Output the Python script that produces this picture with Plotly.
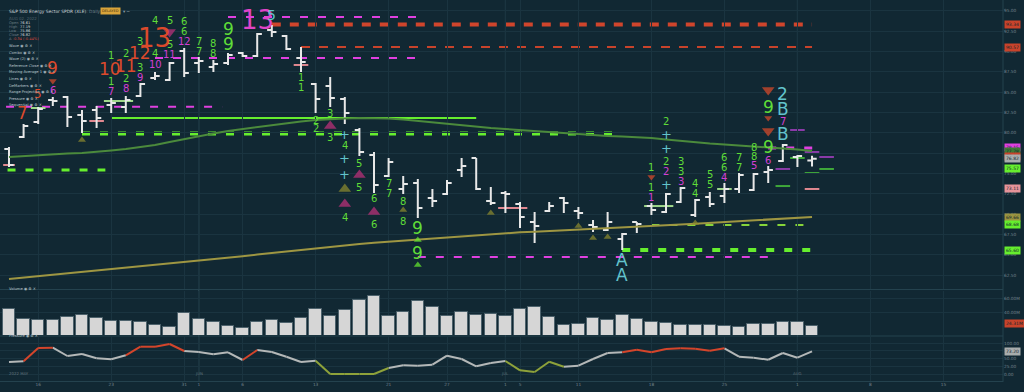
import plotly.graph_objects as go

# ---------------- data ----------------
tick_idx = [2, 7, 12, 13, 16, 21, 26, 30, 34, 35, 39, 44, 49, 54, 59, 64]
tick_text = ["16", "23", "31", "1", "6", "13", "21", "27", "1", "5", "11", "18", "25", "1", "8", "15"]
month_idx = [13, 34, 54]
month_text = ["JUN", "JUL", "AUG"]

open_ = [78.03, 79.50, 81.35, 84.05, 84.42, 82.21, 82.82, 83.44, 83.19, 84.54, 86.76, 86.51, 90.08, 88.60,
         88.11, 88.60, 89.83, 89.46, 92.66, 91.93, 89.22, 86.02, 85.77, 84.18, 80.36, 77.29, 74.70, 73.11,
         73.84, 72.00, 72.49, 75.44, 76.92, 71.63, 72.61, 71.26, 69.05, 70.40, 72.00, 70.40, 68.68, 68.06,
         66.96, 69.05, 71.01, 70.28, 71.51, 69.91, 72.12, 72.24, 73.11, 72.98, 75.20, 76.55, 77.04, 76.61]
high = [78.27, 81.10, 83.19, 84.42, 84.54, 82.82, 83.32, 84.30, 84.54, 86.14, 87.49, 88.73, 90.45, 89.34,
        88.97, 89.83, 89.96, 92.30, 93.28, 92.05, 90.57, 86.14, 86.88, 84.42, 80.61, 77.66, 76.92, 74.70,
        74.34, 73.11, 74.21, 76.92, 76.92, 73.35, 72.86, 71.51, 70.28, 71.51, 72.12, 70.89, 69.29, 70.28,
        67.69, 69.05, 71.38, 72.61, 73.35, 71.88, 72.74, 73.84, 75.07, 75.07, 75.94, 78.64, 77.29, 77.19]
low = [75.81, 79.38, 81.10, 83.32, 80.73, 80.00, 80.61, 82.45, 82.45, 84.42, 86.51, 86.39, 86.88, 87.37,
       87.49, 88.36, 89.34, 89.34, 91.80, 90.20, 87.49, 82.45, 83.19, 81.10, 77.16, 72.61, 74.58, 72.49,
       69.54, 70.89, 72.37, 74.58, 72.98, 71.14, 70.15, 68.31, 66.46, 70.28, 70.15, 69.42, 67.82, 67.94,
       65.60, 67.69, 69.91, 70.15, 71.38, 69.66, 70.89, 71.38, 72.61, 72.86, 73.84, 76.43, 75.81, 75.86]
close = [76.06, 80.86, 82.95, 83.93, 81.96, 81.47, 81.84, 83.68, 84.05, 86.02, 87.00, 88.60, 87.37, 88.85,
         88.48, 89.59, 89.46, 92.17, 92.42, 90.33, 88.73, 84.18, 84.30, 82.45, 77.66, 73.60, 76.43, 73.72,
         70.77, 71.63, 73.84, 75.94, 73.11, 71.38, 72.49, 69.66, 68.55, 71.01, 71.38, 70.15, 68.43, 69.05,
         67.57, 68.80, 70.52, 72.49, 73.23, 71.75, 71.26, 73.11, 74.83, 74.95, 75.44, 78.52, 77.16, 76.82]

ma_green = [77.04, 77.16, 77.29, 77.41, 77.47, 77.53, 77.66, 77.84, 78.03, 78.27, 78.52, 78.89, 79.26, 79.63,
            79.93, 80.24, 80.49, 80.73, 80.98, 81.22, 81.41, 81.59, 81.72, 81.78, 81.84, 81.84, 81.78, 81.65,
            81.47, 81.29, 81.10, 80.92, 80.73, 80.61, 80.49, 80.36, 80.24, 80.12, 80.00, 79.87, 79.75, 79.63,
            79.56, 79.50, 79.38, 79.19, 79.01, 78.83, 78.70, 78.58, 78.46, 78.40, 78.27, 78.15, 77.96, 77.78]
ma_olive = [62.04, 62.21, 62.38, 62.55, 62.72, 62.89, 63.06, 63.23, 63.40, 63.57, 63.74, 63.91, 64.08, 64.25,
            64.45, 64.64, 64.84, 65.04, 65.23, 65.43, 65.63, 65.83, 66.02, 66.22, 66.35, 66.49, 66.62, 66.76,
            66.89, 67.03, 67.16, 67.30, 67.43, 67.57, 67.70, 67.78, 67.86, 67.94, 68.02, 68.10, 68.18, 68.27,
            68.35, 68.43, 68.53, 68.63, 68.74, 68.84, 68.94, 69.04, 69.15, 69.25, 69.35, 69.45, 69.56, 69.66]

volume_m = [44.3, 29.6, 28.2, 28.2, 32.9, 35.8, 31.9, 26.7, 26.7, 26.2, 21.5, 18.6, 39.0, 29.6, 26.2, 20.4,
            17.2, 25.7, 28.6, 24.7, 31.0, 43.9, 34.3, 42.5, 56.8, 62.9, 34.7, 40.5, 55.8, 47.2, 33.9, 39.6,
            35.8, 37.2, 34.3, 43.9, 47.6, 33.3, 21.9, 22.9, 31.9, 29.0, 36.2, 29.6, 25.3, 24.3, 21.0, 21.5,
            21.0, 19.6, 18.6, 22.5, 23.3, 25.3, 25.3, 20.0]
volume_avg = 24.31

pressure = [38.7, 41.0, 83.9, 84.8, 58.1, 64.5, 50.6, 47.4, 60.3, 88.1, 88.1, 96.8, 74.2, 71.0, 63.5, 70.0,
            45.2, 77.4, 71.0, 55.8, 38.7, 42.9, 0.0, 0.0, 0.0, 0.0, 19.4, 28.1, 26.8, 30.0, 59.0, 48.4,
            24.8, 35.5, 41.9, 11.9, 6.5, 39.7, 23.5, 26.8, 48.4, 67.7, 70.0, 78.4, 70.0, 80.6, 82.9, 81.6,
            75.2, 82.9, 55.8, 52.6, 46.1, 67.7, 52.6, 73.2]
# state of the segment that ends at each bar: m = neutral, h = buying, l = selling
pressure_state = ["m", "m", "h", "h", "m", "m", "m", "m", "m", "h", "h", "h", "h", "m", "m", "m",
                  "m", "h", "m", "m", "m", "m", "l", "l", "l", "l", "l", "m", "m", "m", "m", "m",
                  "m", "m", "m", "l", "l", "l", "l", "m", "m", "m", "m", "h", "h", "h", "h", "h",
                  "h", "h", "m", "m", "m", "m", "m", "m"]

# horizontal levels: (start bar, end bar, price)
lv_magenta = [(-0.2, 14.6, 83.23), (10, 28, 89.22), (15, 28, 94.26), (28, 52, 64.74)]
lv_magenta_thick = [(52, 55.2, 78.15)]
lv_red_thick = [(18, 55, 93.34)]
lv_red = [(20, 55, 90.57)]
lv_lime_solid = [(7, 32, 81.84)]
lv_lime_thick = [(5, 41.8, 79.93), (42, 55, 65.60)]
lv_lime = [(-0.1, 6.6, 75.44)]
lv_yellowgreen = [(44, 55, 68.68)]

short_pink = [(-0.4, 0.4, 76.06), (5.5, 6.5, 81.47), (19.5, 20.5, 88.36), (33.5, 35.5, 70.77), (54.5, 55.5, 73.11)]
short_palegreen = [(1.5, 2.5, 83.07), (6.5, 8.5, 83.93), (43.5, 45.5, 71.01), (48.5, 49.5, 73.11)]
short_purple = [(53.5, 54.5, 80.36), (54.5, 55.5, 77.66), (55.5, 56.5, 77.04), (52.5, 53.5, 75.57)]
short_green = [(55.5, 56.5, 75.57), (54.5, 55.5, 75.07), (52.5, 53.5, 73.47), (53.5, 54.5, 76.92)]

# count labels: (bar, price, text)
lab_green = [(7, 89.47, "1"), (7, 86.27, "1"), (8, 89.71, "2"), (8, 86.64, "2"), (9, 91.19, "3"), (9, 88.11, "3"),
             (10, 93.77, "4"), (10, 89.71, "4"), (11, 93.77, "5"), (11, 90.82, "5"), (12, 93.65, "6"),
             (12, 92.42, "6"), (13, 91.19, "7"), (13, 89.96, "7"), (14, 90.94, "8"), (14, 89.71, "8"),
             (20, 86.88, "1"), (20, 85.65, "1"), (21, 81.59, "2"), (21, 80.49, "2"), (22, 82.45, "3"),
             (22, 79.38, "3"), (23, 78.40, "4"), (23, 69.66, "4"), (24, 76.30, "5"), (24, 73.23, "5"),
             (25, 71.88, "6"), (25, 68.80, "6"), (26, 73.84, "7"), (26, 72.61, "7"), (27, 71.63, "8"),
             (27, 69.17, "8"), (44, 75.69, "1"), (44, 73.35, "1"), (45, 81.35, "2"), (45, 76.43, "2"),
             (46, 76.55, "3"), (46, 75.32, "3"), (47, 73.84, "4"), (47, 72.61, "4"), (48, 74.83, "5"),
             (48, 73.60, "5"), (49, 77.04, "6"), (49, 75.81, "6"), (50, 76.92, "7"), (50, 75.69, "7"),
             (51, 78.27, "8"), (51, 77.16, "8")]
lab_green_big = [(15, 92.79, "9"), (15, 90.94, "9"), (28, 68.31, "9"), (28, 65.23, "9"), (52, 83.19, "9"), (52, 78.27, "9")]
lab_red_big = [(0.9, 82.45, "7"), (3, 87.99, "9"), (6.9, 87.87, "10"), (8, 88.24, "11"), (9, 89.83, "12")]
lab_red_huge = [(9.95, 91.68, "13")]
lab_red_small = [(2, 84.79, "5")]
lab_magenta = [(3, 85.16, "6"), (7, 85.04, "7"), (8, 85.41, "8"), (9, 86.88, "9"), (10, 88.36, "10"),
               (11, 89.59, "11"), (12, 91.19, "12"), (44, 72.12, "1"), (45, 75.20, "2"), (46, 74.09, "3"),
               (49, 74.58, "4"), (51, 75.94, "5"), (52, 76.67, "6"), (53, 81.35, "7")]
lab_magenta_huge = [(17, 93.89, "13")]
lab_cyan_small = [(18, 94.51, "5")]
lab_cyan_plus = [(23, 79.87, "+"), (23, 76.80, "+"), (23, 74.95, "+"), (45, 79.87, "+"), (45, 78.03, "+"), (45, 73.72, "+")]
lab_cyan_big = [(42, 64.37, "A"), (42, 62.53, "A"), (53, 84.79, "2"), (53, 82.95, "B"), (53, 79.87, "B")]

# triangle markers: (bar, price, big?)
tri_red_down = [(3, 86.39, 0), (44, 74.58, 0), (52, 85.28, 1), (52, 81.84, 0), (52, 80.24, 1)]
tri_magenta_down = [(11, 92.42, 1)]
tri_magenta_up = [(22, 80.86, 1), (23, 71.26, 1), (24, 74.83, 1), (25, 70.28, 1)]
tri_olive_up = [(5, 79.13, 0), (23, 73.11, 1), (27, 70.52, 0), (33, 70.15, 0), (39, 68.55, 0),
                (40, 67.08, 0), (41, 67.20, 0), (47, 68.92, 0)]
tri_lime_up = [(28, 66.83, 0), (28, 63.76, 0)]

price_ticks = [62.5, 65.0, 67.5, 70.0, 72.5, 75.0, 77.5, 80.0, 82.5, 85.0, 87.5, 90.0, 92.5, 95.0]
vol_ticks = [40, 60]
pres_ticks = [0, 25, 50, 75, 100]

indicators = ["Wave", "Combo", "Wave (2)", "Reference Close", "Moving Average 1", "Lines",
              "DeMarkers", "Range Projection", "Pressure", "Sequential"]

# ---------------- style ----------------
BG = "#112833"
GRID = "#1a3440"
FONT = "DejaVu Sans"
C_GREEN_TXT = "#5fdc38"
C_RED = "#dc4a2c"
C_MAG = "#d33fd3"
C_MAG_LINE = "#e040e0"
C_CYAN = "#62c3cc"
C_LIME = "#66ee2e"
C_OLIVE = "#8f8b2e"
C_TRI_MAG = "#c2307c"

N = len(close)
xs = list(range(N))
H = 382.0  # plot-area height in px
W = 1003.0


def py(p):
    return 1 - p / H


def pxx(p):
    return p / W


fig = go.Figure()

fig.add_trace(go.Ohlc(x=xs, open=open_, high=high, low=low, close=close,
                      increasing=dict(line=dict(color="#e8e8e8", width=2)),
                      decreasing=dict(line=dict(color="#e8e8e8", width=2)),
                      tickwidth=0.32, showlegend=False, hoverinfo="skip", xaxis="x", yaxis="y"))

fig.add_trace(go.Scatter(x=xs, y=ma_green, mode="lines", line=dict(color="#4b8a3c", width=2),
                         showlegend=False, hoverinfo="skip", yaxis="y"))
fig.add_trace(go.Scatter(x=xs, y=ma_olive, mode="lines", line=dict(color="#9e9642", width=2),
                         showlegend=False, hoverinfo="skip", yaxis="y"))

fig.add_trace(go.Bar(x=xs, y=volume_m, width=0.86, marker=dict(color="#d6d6d6", line=dict(color="#4d626c", width=1)),
                     showlegend=False, hoverinfo="skip", yaxis="y2"))

state_color = {"m": "#b4b8b8", "h": "#d4452b", "l": "#8ea23a"}
for st, col in state_color.items():
    sx, sy = [], []
    for i in range(1, N):
        if pressure_state[i] == st:
            sx += [i - 1, i, None]
            sy += [pressure[i - 1], pressure[i], None]
    fig.add_trace(go.Scatter(x=sx, y=sy, mode="lines", line=dict(color=col, width=2),
                             showlegend=False, hoverinfo="skip", yaxis="y3", connectgaps=False))


def add_tris(lst, sym, col):
    fig.add_trace(go.Scatter(x=[t[0] for t in lst], y=[t[1] for t in lst], mode="markers",
                             marker=dict(symbol=sym, color=col, size=[11 if t[2] else 7 for t in lst], line=dict(width=0)),
                             showlegend=False, hoverinfo="skip", yaxis="y"))


add_tris(tri_red_down, "triangle-down", "#e04a2a")
add_tris(tri_magenta_down, "triangle-down", C_TRI_MAG)
add_tris(tri_magenta_up, "triangle-up", C_TRI_MAG)
add_tris(tri_olive_up, "triangle-up", C_OLIVE)
add_tris(tri_lime_up, "triangle-up", C_LIME)

shapes = []


def add_levels(lst, col, width, dash):
    for x0, x1, p in lst:
        shapes.append(dict(type="line", xref="x", yref="y", x0=x0, x1=x1, y0=p, y1=p,
                           line=dict(color=col, width=width, dash=dash), layer="below"))


add_levels(lv_magenta, C_MAG_LINE, 2, "8px,10px")
add_levels(lv_magenta_thick, C_MAG_LINE, 3, "8px,10px")
add_levels(lv_red_thick, "#d0452c", 4, "9px,9px")
add_levels(lv_red, "#c8432b", 2, "9px,9px")
add_levels(lv_lime_solid, C_LIME, 2, "solid")
add_levels(lv_lime_thick, C_LIME, 4, "8px,10px")
add_levels(lv_lime, C_LIME, 3, "8px,10px")
add_levels(lv_yellowgreen, "#86d43a", 2, "8px,10px")
add_levels(short_pink, "#e08890", 2, "solid")
add_levels(short_palegreen, "#9fd88a", 2, "solid")
add_levels(short_purple, "#8a3aa8", 2, "solid")
add_levels(short_green, "#3fa83a", 2, "solid")

# month separators
for m in month_idx:
    shapes.append(dict(type="line", xref="x", yref="paper", x0=m, x1=m, y0=0, y1=1,
                       line=dict(color="#33505b", width=1), layer="below"))
# panel frames
for yp in [289.5, 336, 381.5]:
    shapes.append(dict(type="line", xref="paper", yref="paper", x0=0, x1=1, y0=py(yp), y1=py(yp),
                       line=dict(color="#24424e", width=1)))
shapes.append(dict(type="line", xref="paper", yref="paper", x0=1, x1=1, y0=0, y1=1,
                   line=dict(color="#24424e", width=1)))

ann = []


def add_labels(lst, col, size):
    for x, p, t in lst:
        ann.append(dict(x=x, y=p, xref="x", yref="y", text=t, showarrow=False,
                        font=dict(family=FONT, size=size, color=col)))


add_labels(lab_green, C_GREEN_TXT, 10)
add_labels(lab_green_big, C_GREEN_TXT, 17)
add_labels(lab_red_big, C_RED, 17)
add_labels(lab_red_huge, C_RED, 26)
add_labels(lab_red_small, C_RED, 12)
add_labels(lab_magenta, C_MAG, 10)
add_labels(lab_magenta_huge, "#e044c8", 26)
add_labels(lab_cyan_small, C_CYAN, 14)
add_labels(lab_cyan_plus, C_CYAN, 13)
add_labels(lab_cyan_big, C_CYAN, 17)

# right-side value tags
tags = [
    ("y", lv_red_thick[0][2], "#c8432b"),
    ("y", lv_red[0][2], "#c8432b"),
    ("y", lv_magenta_thick[0][2], C_MAG_LINE),
    ("y", ma_green[-1], "#3f7a36"),
    ("y", close[-2], "#c8432b"),
    ("y", close[-1], "#a9adad"),
    ("y", short_green[0][2], C_LIME),
    ("y", short_pink[-1][2], "#e6939a"),
    ("y", ma_olive[-1], "#9a9440"),
    ("y", lv_yellowgreen[0][2], C_LIME),
    ("y", lv_lime_thick[1][2], C_LIME),
    ("y2", volume_avg, "#c8432b"),
    ("y3", pressure[-1], "#a9adad"),
]
for ax, v, col in tags:
    txt = f"{v:.2f}M" if ax == "y2" else f"{v:.2f}"
    ann.append(dict(x=1, y=v, xref="paper", yref=ax, xanchor="left", xshift=1, text=txt, showarrow=False,
                    bgcolor=col, borderpad=1, font=dict(family=FONT, size=4.5, color="#13262d")))

# legend block
ann.append(dict(x=pxx(7), y=py(7), xref="paper", yref="paper", xanchor="left", showarrow=False,
                text="S&P 500 Energy Sector SPDR (XLE)<span style='color:#6f7f88'>: Daily</span>",
                font=dict(family=FONT, size=4.4, color="#cfd6da")))
ann.append(dict(x=pxx(100), y=py(7), xref="paper", yref="paper", xanchor="left", showarrow=False,
                text="DELAYED", bgcolor="#d9a43a", borderpad=1, font=dict(family=FONT, size=3.6, color="#3a2a10")))
ann.append(dict(x=pxx(121), y=py(7), xref="paper", yref="paper", xanchor="left", showarrow=False,
                text="▾ ═", font=dict(family=FONT, size=4.5, color="#8a9aa3")))
ann.append(dict(x=pxx(7), y=py(14), xref="paper", yref="paper", xanchor="left", showarrow=False,
                text="AUG 02, 2022", font=dict(family=FONT, size=4, color="#4f626c")))
chg = close[-1] - close[-2]
rows = [("Open", open_[-1]), ("High", high[-1]), ("Low", low[-1]), ("Close", close[-1])]
for k, (nm, v) in enumerate(rows):
    yy = 19 + 4 * k
    ann.append(dict(x=pxx(7), y=py(yy), xref="paper", yref="paper", xanchor="left", showarrow=False,
                    text=nm, font=dict(family=FONT, size=3.6, color="#6a7b84")))
    ann.append(dict(x=pxx(18), y=py(yy), xref="paper", yref="paper", xanchor="left", showarrow=False,
                    text=f"{v:.2f}", font=dict(family=FONT, size=3.6, color="#d6dcdf")))
ann.append(dict(x=pxx(7), y=py(35), xref="paper", yref="paper", xanchor="left", showarrow=False,
                text=f"Δ <span style='color:#d8463a'>{chg:+.2f} ({chg / close[-2] * 100:+.2f}%)</span>",
                font=dict(family=FONT, size=3.6, color="#6a7b84")))
for k, nm in enumerate(indicators):
    ann.append(dict(x=pxx(7), y=py(42 + 6.6 * k), xref="paper", yref="paper", xanchor="left", showarrow=False,
                    text=nm + " ◉ ⚙ ✕", font=dict(family=FONT, size=3.7, color="#b9c4ca")))
ann.append(dict(x=pxx(7), y=py(292.5), xref="paper", yref="paper", xanchor="left", showarrow=False,
                text="Volume ◉ ⚙ ✕", font=dict(family=FONT, size=3.7, color="#b9c4ca")))
ann.append(dict(x=pxx(7), y=py(339.5), xref="paper", yref="paper", xanchor="left", showarrow=False,
                text="Pressure ◉ ⚙ ✕", font=dict(family=FONT, size=3.7, color="#b9c4ca")))
ann.append(dict(x=pxx(7), y=py(378), xref="paper", yref="paper", xanchor="left", showarrow=False,
                text="2022 MAY", font=dict(family=FONT, size=3.9, color="#5f717a")))
for m, t in zip(month_idx, month_text):
    ann.append(dict(x=m, y=py(378), xref="x", yref="paper", xanchor="center", showarrow=False,
                    text=t, font=dict(family=FONT, size=3.9, color="#5f717a")))

axfont = dict(family=FONT, size=4.3, color="#72838c")
fig.update_layout(
    width=1024, height=392,
    margin=dict(l=0, r=21, t=0, b=10),
    paper_bgcolor=BG, plot_bgcolor=BG,
    showlegend=False,
    bargap=0,
    shapes=shapes,
    annotations=ann,
    xaxis=dict(domain=[0, 1], range=[-0.616, 68.08], anchor="y3", tickmode="array", tickvals=tick_idx,
               ticktext=tick_text, tickfont=axfont, showgrid=True, gridcolor=GRID, gridwidth=1,
               zeroline=False, showline=False, ticks="", rangeslider=dict(visible=False), fixedrange=True),
    yaxis=dict(domain=[0.2435, 1], range=[60.81, 96.35], side="right", anchor="x", tickmode="array",
               tickvals=price_ticks, ticktext=[f"{v:.2f}" for v in price_ticks], tickfont=axfont,
               showgrid=True, gridcolor=GRID, zeroline=False, ticks="", showline=False),
    yaxis2=dict(domain=[0.123, 0.2382], range=[7.15, 70.07], side="right", anchor="x", tickmode="array",
                tickvals=vol_ticks, ticktext=[f"{v:.2f}M" for v in vol_ticks], tickfont=axfont,
                showgrid=True, gridcolor=GRID, zeroline=False, ticks=""),
    yaxis3=dict(domain=[0.0026, 0.1178], range=[-22.6, 119.4], side="right", anchor="x", tickmode="array",
                tickvals=pres_ticks, ticktext=[f"{v:.2f}" for v in pres_ticks], tickfont=axfont,
                showgrid=True, gridcolor=GRID, zeroline=False, ticks=""),
)

fig.write_html("out.html", config={"displayModeBar": False},
               post_script="document.body.style.margin='0';document.body.style.padding='0';"
                           "document.documentElement.style.background='" + BG + "';")
